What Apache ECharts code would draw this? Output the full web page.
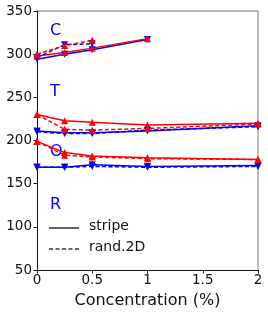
<!DOCTYPE html>
<html><head><meta charset="utf-8">
<script src="https://cdn.jsdelivr.net/npm/echarts@6/dist/echarts.min.js"></script>
<style>html,body{margin:0;padding:0;background:#fff}#c{width:268px;height:314px}</style>
</head><body><div id="c"></div>
<script>
const xC = [0, 0.25, 0.5, 1];
const xAll = [0, 0.25, 0.5, 1, 2];
const xRandC = [0, 0.25, 0.5];
const C_red_stripe = [298, 302, 307, 318];
const C_blue_stripe = [294, 300, 305, 317];
const C_red_rand = [300, 310, 316];
const C_blue_rand = [296, 311, 312];
const T_red_stripe = [230, 223, 221, 218, 220];
const T_red_rand = [230, 213, 212, 214, 219];
const T_blue_stripe = [211, 209, 209, 211, 217];
const T_blue_rand = [210, 208, 208, 212, 216];
const O_red_stripe = [199, 186, 182, 180, 178];
const O_red_rand = [199, 183, 181, 179, 178];
const O_blue_stripe = [169, 169, 172, 170, 171];
const O_blue_rand = [169, 169, 170, 169, 170];
const groupLabels = ['C', 'T', 'O', 'R'];
const legendLabels = ['stripe', 'rand.2D'];
const xTicks = [0, 0.5, 1, 1.5, 2];

const RED = '#ff0000', BLUE = '#0000ff';
function mk(xs, ys, color, dashed) {
  return {
    type: 'line', data: xs.map((x, i) => [x, ys[i]]),
    symbol: 'triangle', symbolSize: 7, symbolRotate: color === BLUE ? 180 : 0,
    lineStyle: { color: color, width: 1.5, type: dashed ? [4, 2.5] : 'solid' },
    itemStyle: { color: color }, animation: false, z: dashed ? 3 : 2
  };
}
const series = [
  mk(xC, C_blue_stripe, BLUE, false), mk(xC, C_red_stripe, RED, false),
  mk(xRandC, C_blue_rand, BLUE, true), mk(xRandC, C_red_rand, RED, true),
  mk(xAll, T_blue_stripe, BLUE, false), mk(xAll, T_red_stripe, RED, false),
  mk(xAll, T_blue_rand, BLUE, true), mk(xAll, T_red_rand, RED, true),
  mk(xAll, O_blue_stripe, BLUE, false), mk(xAll, O_red_stripe, RED, false),
  mk(xAll, O_blue_rand, BLUE, true), mk(xAll, O_red_rand, RED, true)
];
const font = 'DejaVu Sans';
const chart = echarts.init(document.getElementById('c'), null, { renderer: 'canvas' });
const labelPos = [[50, 31], [50, 92], [50, 152], [50, 205]];
const graphic = groupLabels.map((t, i) => ({
  type: 'text', left: labelPos[i][0], top: labelPos[i][1] - 8,
  style: { text: t, fill: BLUE, font: '16px "' + font + '"' }
}));
graphic.push(
  { type: 'line', shape: { x1: 49, y1: 228, x2: 79, y2: 228 }, style: { stroke: '#333', lineWidth: 1.5 } },
  { type: 'line', shape: { x1: 49, y1: 249, x2: 79, y2: 249 }, style: { stroke: '#333', lineWidth: 1.5, lineDash: [4, 2.5] } },
  { type: 'text', left: 89, top: 219, style: { text: legendLabels[0], fill: '#111', font: '14px "' + font + '"' } },
  { type: 'text', left: 89, top: 240, style: { text: legendLabels[1], fill: '#111', font: '14px "' + font + '"' } },
  { type: 'line', shape: { x1: 37, y1: 11, x2: 258, y2: 11 }, style: { stroke: '#777', lineWidth: 1 } },
  { type: 'line', shape: { x1: 258, y1: 11, x2: 258, y2: 270 }, style: { stroke: '#777', lineWidth: 1 } }
);
chart.setOption({
  animation: false,
  grid: { left: 37, right: 10, top: 11, bottom: 44, containLabel: false },
  xAxis: {
    type: 'value', min: 0, max: 2, interval: 0.5,
    name: 'Concentration (%)', nameLocation: 'middle', nameGap: 23,
    nameTextStyle: { fontFamily: font, fontSize: 16, color: '#111' },
    axisLine: { show: true, onZero: false, lineStyle: { color: '#111', width: 1 } },
    axisTick: { show: true, length: 3.5, lineStyle: { color: '#111' } },
    axisLabel: { fontFamily: font, fontSize: 13.5, color: '#111', margin: 3,
      formatter: v => xTicks.includes(v) ? String(v) : '' },
    splitLine: { show: false }
  },
  yAxis: {
    type: 'value', min: 50, max: 350, interval: 50,
    axisLine: { show: true, lineStyle: { color: '#111', width: 1 } },
    axisTick: { show: true, length: 3.5, lineStyle: { color: '#111' } },
    axisLabel: { fontFamily: font, fontSize: 13.5, color: '#111', margin: 5 },
    splitLine: { show: false }
  },
  graphic: graphic,
  series: series
});
</script></body></html>
